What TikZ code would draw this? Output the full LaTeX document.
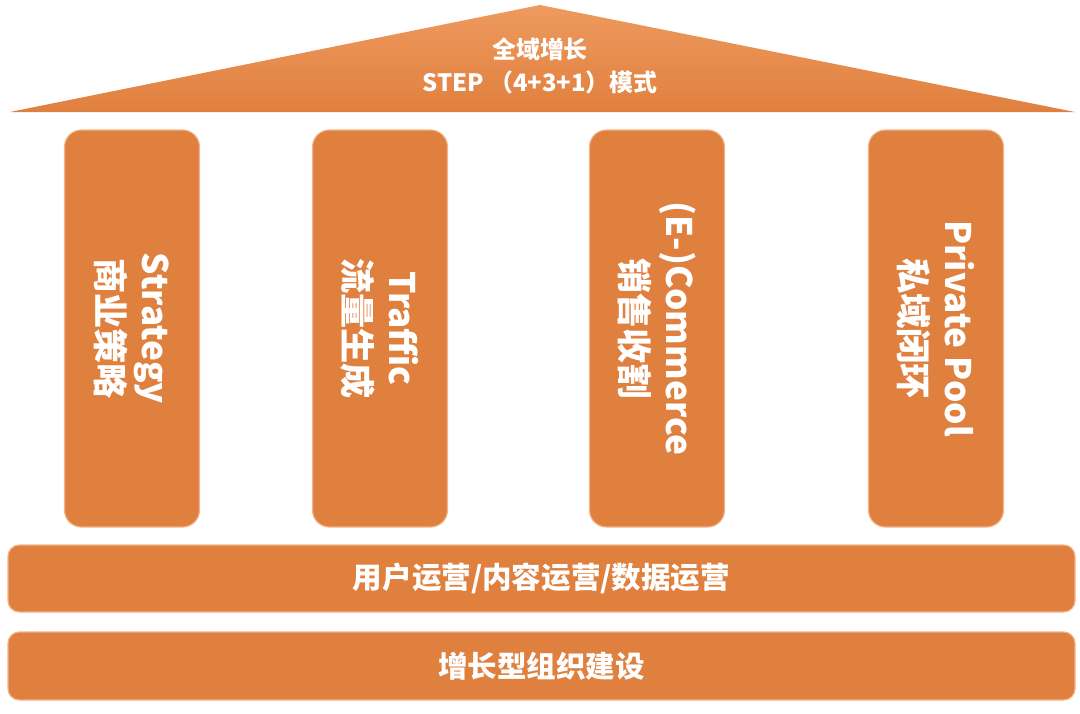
\documentclass[tikz,border=0pt]{standalone}
\usepackage{fontspec}
\setmainfont{Noto Sans CJK SC}
\newfontfamily\cjkbold[BoldFont={Noto Sans CJK SC Bold}]{Noto Sans CJK SC}
\definecolor{pillarorange}{HTML}{E0803F}
\definecolor{pillarline}{HTML}{F2B48A}
\definecolor{rooftop}{HTML}{EE9A5E}
\tikzset{
  pillar box/.style={
    rounded corners=12pt,
    draw=pillarline,
    line width=0.8pt,
    fill=pillarorange,
    text=white,
    align=center,
    font=\bfseries\fontsize{25}{30}\selectfont,
  },
  base bar/.style={
    rounded corners=8pt,
    draw=pillarline,
    line width=0.8pt,
    fill=pillarorange,
    text=white,
    font=\bfseries\fontsize{21}{25}\selectfont,
  },
}
\begin{document}
\begin{tikzpicture}[x=0.025cm, y=-0.025cm]
  \useasboundingbox (0,0) rectangle (1080,713);
  % roof
  \coordinate (roofl) at (10,112);
  \coordinate (roofr) at (1075,112);
  \coordinate (roofa) at (540,5);
  \shade[top color=rooftop, bottom color=pillarorange] (roofl) -- (roofa) -- (roofr) -- cycle;
  \node[text=white, align=center, font=\bfseries\fontsize{17}{24}\selectfont] (title) at (540,66) {全域增长\\STEP （4+3+1）模式};
  % pillars
  \foreach \name/\cx/\txt in {strat/132/{Strategy\\商业策略}, traf/380/{Traffic\\流量生成}, comm/657/{(E-)Commerce\\销售收割}, priv/936/{Private Pool\\私域闭环}}{
    \node[pillar box, minimum width=135*0.025cm, minimum height=397*0.025cm] (\name) at (\cx,328.5) {};
    \node[rotate=-90, text=white, align=center, font=\bfseries\fontsize{25}{32}\selectfont] at (\name.center) {\txt};
  }
  % base bars
  \node[base bar, minimum width=1067*0.025cm, minimum height=67*0.025cm] (ops) at (541.5,578.5) {用户运营/内容运营/数据运营};
  \node[base bar, minimum width=1067*0.025cm, minimum height=68*0.025cm] (org) at (541.5,666) {增长型组织建设};
\end{tikzpicture}
\end{document}
